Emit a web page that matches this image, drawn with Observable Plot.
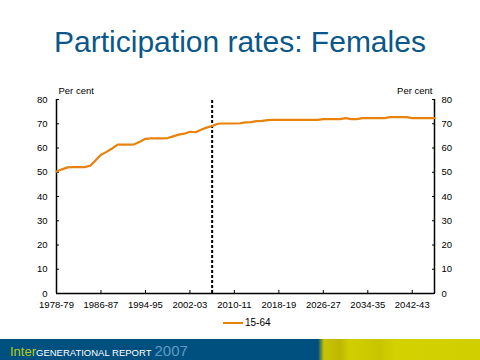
<!DOCTYPE html>
<html>
<head>
<meta charset="utf-8">
<script src="https://cdn.jsdelivr.net/npm/d3@7"></script>
<script src="https://cdn.jsdelivr.net/npm/@observablehq/plot@0.6"></script>
<style>
  html, body { margin: 0; padding: 0; background: #fff; }
  body { width: 480px; height: 360px; position: relative; overflow: hidden; font-family: Arial, "Liberation Sans", sans-serif; }
  #title { position: absolute; left: 0; width: 480px; top: 25px; text-align: center; font-size: 30px; color: #0b5789; }
  #chart { position: absolute; left: 0; top: 80px; }
  #legend { position: absolute; top: 317px; left: 223px; font-size: 10px; color: #000; display: flex; align-items: center; }
  #legend .sw { width: 20px; height: 2px; background: #e8820c; margin-right: 2px; }
  #footer { position: absolute; left: 0; top: 339px; width: 480px; height: 21px; background: linear-gradient(to right, #00507f 0px, #00507f 318px, #c9c400 324px, #bdb800 340px, #d2cf00 350px, #c8c500 380px, #d4d100 395px, #d2cf00 480px); }
  #footer .t { position: absolute; left: 10px; top: 3px; white-space: nowrap; }
  #footer .inter { color: #b5cc1a; font-size: 13px; }
  #footer .gen { color: #fff; font-size: 9.5px; }
  #footer .yr { color: #5e9cc6; font-size: 15px; margin-left: 3px; font-weight: 300; }
</style>
</head>
<body>
<div id="title">Participation rates: Females</div>
<div id="chart"></div>
<div id="legend"><div class="sw"></div><span>15-64</span></div>
<div id="footer"><div class="t"><span class="inter">Inter</span><span class="gen">GENERATIONAL REPORT</span><span class="yr">2007</span></div></div>
<script>
const years = d3.range(1978, 2047);
const rates = [
  50.3, 51.2, 52.0, 52.1, 52.1, 52.1, 52.6, 54.8, 57.2, 58.4,
  59.8, 61.4, 61.4, 61.4, 61.5, 62.6, 63.8, 64.0, 64.0, 64.0,
  64.1, 64.8, 65.5, 65.9, 66.7, 66.5, 67.5, 68.4, 69.1, 70.0,
  70.1, 70.1, 70.1, 70.2, 70.6, 70.7, 71.1, 71.2, 71.5, 71.6,
  71.6, 71.6, 71.6, 71.6, 71.6, 71.6, 71.6, 71.6, 71.9, 71.9,
  71.9, 71.9, 72.3, 71.9, 71.9, 72.3, 72.3, 72.3, 72.3, 72.3,
  72.7, 72.7, 72.7, 72.7, 72.3, 72.3, 72.3, 72.3, 72.3
];
const xTicks = [1978, 1986, 1994, 2002, 2010, 2018, 2026, 2034, 2042];
const yTicks = [0, 10, 20, 30, 40, 50, 60, 70, 80];
const projectionStart = [2006];
const seriesName = "15-64";
const unitLabel = "Per cent";

const data = years.map((y, i) => ({year: y, value: rates[i]}));
const fmt = y => `${y}-${String((y + 1) % 100).padStart(2, "0")}`;

const chart = Plot.plot({
  width: 480,
  height: 240,
  marginTop: 19,
  marginBottom: 27,
  marginLeft: 56,
  marginRight: 46,
  style: {fontFamily: "Arial, 'Liberation Sans', sans-serif", fontSize: "9.5px", color: "#000", background: "transparent"},
  x: {domain: [1978, 2046]},
  y: {domain: [0, 80]},
  marks: [
    Plot.axisY({anchor: "left", ticks: yTicks, tickSize: -3, tickPadding: 12, label: null}),
    Plot.axisY({anchor: "right", ticks: yTicks, tickSize: -3, tickPadding: 10, label: null}),
    Plot.axisX({ticks: xTicks, tickFormat: fmt, tickSize: -3, tickPadding: 11, label: null}),
    Plot.ruleY([0], {stroke: "#000", strokeWidth: 1.5}),
    Plot.ruleX([1978, 2046], {stroke: "#000", strokeWidth: 1.5}),
    Plot.ruleX(projectionStart, {y1: 0, y2: 80, stroke: "#000", strokeWidth: 2, strokeDasharray: "3,2"}),
    Plot.line(data, {x: "year", y: "value", stroke: "#e8820c", strokeWidth: 2.2}),
    Plot.text([unitLabel], {frameAnchor: "top-left", dx: 2, dy: -12, textAnchor: "start"}),
    Plot.text([unitLabel], {frameAnchor: "top-right", dx: -2, dy: -12, textAnchor: "end"})
  ]
});
document.getElementById("chart").appendChild(chart);
</script>
</body>
</html>
